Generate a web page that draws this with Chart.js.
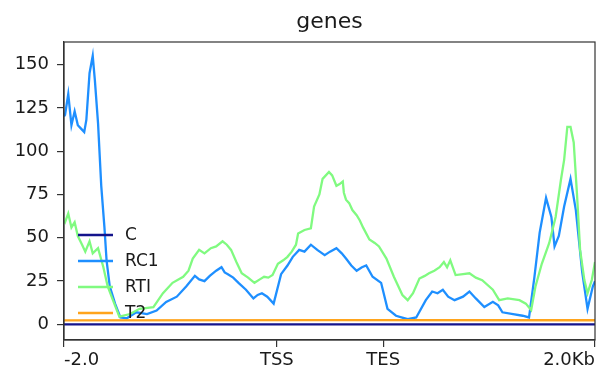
<!DOCTYPE html>
<html>
<head>
<meta charset="utf-8">
<script src="https://cdn.jsdelivr.net/npm/chart.js@4/dist/chart.umd.min.js"></script>
<style>
  html, body { margin: 0; padding: 0; background: #fff; }
  #wrap { width: 598px; height: 369px; }
</style>
</head>
<body>
<div id="wrap"><canvas id="profile"></canvas></div>
<script>
Chart.defaults.font.family = 'DejaVu Sans';
Chart.defaults.color = '#1a1a1a';

// positions des ticks (bins de 10 pb) et libellés
const xTickPos = [0, 200, 300, 499];
const xTickLabels = ['-2.0', 'TSS', 'TES', '2.0Kb'];
const yTicks = [0, 25, 50, 75, 100, 125, 150];

const seriesNames = ['C', 'RC1', 'RTI', 'T2'];
const seriesColors = ['#14148c', '#1e8fff', '#80fa80', '#ffa41c'];

// C
const cBins = [0, 499];
const cValues = [0, 0];

// RC1
const rc1Bins = [0, 1, 4, 7, 10, 13, 16, 19, 21, 24, 27, 29, 32, 35, 38, 40, 43, 48, 53, 59,
  68, 78, 87, 96, 106, 115, 123, 127, 132, 137, 143, 148, 151, 154, 159, 164, 171, 178, 182,
  186, 191, 197, 204, 210, 215, 221, 226, 232, 238, 245, 250, 256, 261, 265, 270, 275, 280,
  284, 290, 298, 304, 312, 323, 331, 340, 346, 351, 356, 361, 367, 375, 381, 387, 395, 403,
  408, 412, 422, 431, 437, 442, 447, 453, 458, 461, 465, 470, 476, 481, 487, 492, 497, 499];
const rc1Values = [120, 121, 133, 115, 123, 115, 113, 111, 118, 145, 155, 141, 116, 80, 56, 37,
  22, 12, 4, 3.5, 7, 6, 8, 13, 16, 22, 28, 26, 25, 28, 31, 33, 30, 29, 27, 24, 20, 15, 17,
  18, 16, 12, 29, 34, 39, 43, 42, 46, 43, 40, 42, 44, 41, 38, 34, 31, 33, 34, 27.5, 24, 9,
  5, 3, 4, 14, 19, 18, 20, 16, 14, 16, 19, 15, 10, 13, 11, 7, 6, 5, 4, 27, 53, 73, 62, 45,
  51, 68, 84, 66, 30, 9, 22, 25];

// RTI
const rtiBins = [0, 1, 4, 7, 10, 13, 17, 20, 24, 27, 32, 37, 41, 46, 52, 62, 71, 84, 93, 102,
  112, 117, 121, 127, 132, 138, 143, 149, 153, 157, 162, 167, 173, 179, 184, 188, 192, 196,
  201, 206, 210, 214, 218, 220, 226, 232, 235, 240, 243, 249, 252, 256, 259, 262, 263, 265,
  268, 271, 275, 278, 281, 287, 292, 296, 303, 310, 318, 323, 328, 334, 339, 343, 348, 353,
  357, 360, 363, 368, 375, 381, 387, 393, 403, 409, 417, 428, 434, 439, 443, 449, 456, 462,
  467, 470, 473, 476, 479, 482, 485, 489, 492, 496, 499];
const rtiValues = [60, 59, 64, 56, 59, 51, 46, 42, 48, 41, 44, 33, 22, 14, 4.5, 6, 9, 10, 18, 24,
  27.5, 31, 38, 43, 41, 44, 45, 48, 46, 43, 36, 29.5, 27, 24, 26, 27.5, 27, 28.5,
  35, 37, 39, 42, 46, 52.5, 54.5, 55.5, 68, 75, 84, 88, 86, 80, 81, 82.5, 76, 72,
  70, 66, 63, 60, 56, 49, 47, 45, 38, 27.5, 17, 14, 18, 26.5, 28, 29.5, 31, 33,
  36, 33, 37, 28.5, 29, 29.5, 27, 25.5, 20, 14, 15, 14, 12, 8.3, 21.7, 35, 47, 62,
  83.5, 95, 114, 114, 105, 76, 43, 25.6, 18, 25.6, 36];

// T2
const t2Bins = [0, 250, 499];
const t2Values = [2.3, 2.5, 2.4];

function toPoints(bins, values) {
  return bins.map((b, i) => ({ x: b, y: values[i] }));
}

const allBins = [cBins, rc1Bins, rtiBins, t2Bins];
const allValues = [cValues, rc1Values, rtiValues, t2Values];

// cadre complet autour de la zone de tracé + légende sans cadre
const framePlugin = {
  id: 'frame',
  afterDatasetsDraw(chart) {
    const { ctx, chartArea: a } = chart;
    ctx.save();
    ctx.strokeStyle = '#333';
    ctx.lineWidth = 1.2;
    ctx.strokeRect(a.left, a.top, a.right - a.left, a.bottom - a.top);

    ctx.font = '17px "DejaVu Sans"';
    ctx.textBaseline = 'middle';
    ctx.fillStyle = '#1a1a1a';
    seriesNames.forEach((name, i) => {
      const y = 235 + i * 26;
      ctx.strokeStyle = seriesColors[i];
      ctx.lineWidth = 2.5;
      ctx.beginPath();
      ctx.moveTo(a.left + 14, y);
      ctx.lineTo(a.left + 49, y);
      ctx.stroke();
      ctx.fillText(name, a.left + 61, y + 1);
    });
    ctx.restore();
  },
};

new Chart(document.getElementById('profile'), {
  type: 'line',
  data: {
    datasets: seriesNames.map((name, i) => ({
      label: name,
      data: toPoints(allBins[i], allValues[i]),
      borderColor: seriesColors[i],
      borderWidth: 2.3,
      pointRadius: 0,
      tension: 0,
      fill: false,
      order: 3 - i,
    })),
  },
  options: {
    responsive: true,
    maintainAspectRatio: false,
    animation: false,
    layout: { padding: { left: 0, right: 1, top: 0, bottom: 0 } },
    plugins: {
      legend: { display: false },
      tooltip: { enabled: false },
      title: {
        display: true,
        text: 'genes',
        fullSize: false,
        font: { size: 22, weight: 'normal' },
        color: '#1a1a1a',
        padding: { top: 9, bottom: 6.6 },
      },
    },
    scales: {
      x: {
        type: 'linear',
        min: 0,
        max: 499,
        afterBuildTicks: (axis) => {
          axis.ticks = xTickPos.map((v) => ({ value: v }));
        },
        afterFit: (axis) => { axis.height = 29; },
        ticks: {
          autoSkip: false,
          maxRotation: 0,
          align: 'inner',
          padding: 3,
          font: { size: 18 },
          callback: (v, i) => xTickLabels[i],
        },
        grid: { drawOnChartArea: false, tickLength: 7, color: '#333', lineWidth: 1.2 },
        border: { display: true, color: '#333', width: 1.2 },
      },
      y: {
        min: -9,
        max: 163,
        afterBuildTicks: (axis) => {
          axis.ticks = yTicks.map((v) => ({ value: v }));
        },
        afterFit: (axis) => { axis.width = 64; },
        ticks: {
          padding: 8,
          font: { size: 18 },
          callback: (v) => String(v),
        },
        grid: { drawOnChartArea: false, tickLength: 7, color: '#333', lineWidth: 1.2 },
        border: { display: true, color: '#333', width: 1.2 },
      },
    },
  },
  plugins: [framePlugin],
});
</script>
</body>
</html>
